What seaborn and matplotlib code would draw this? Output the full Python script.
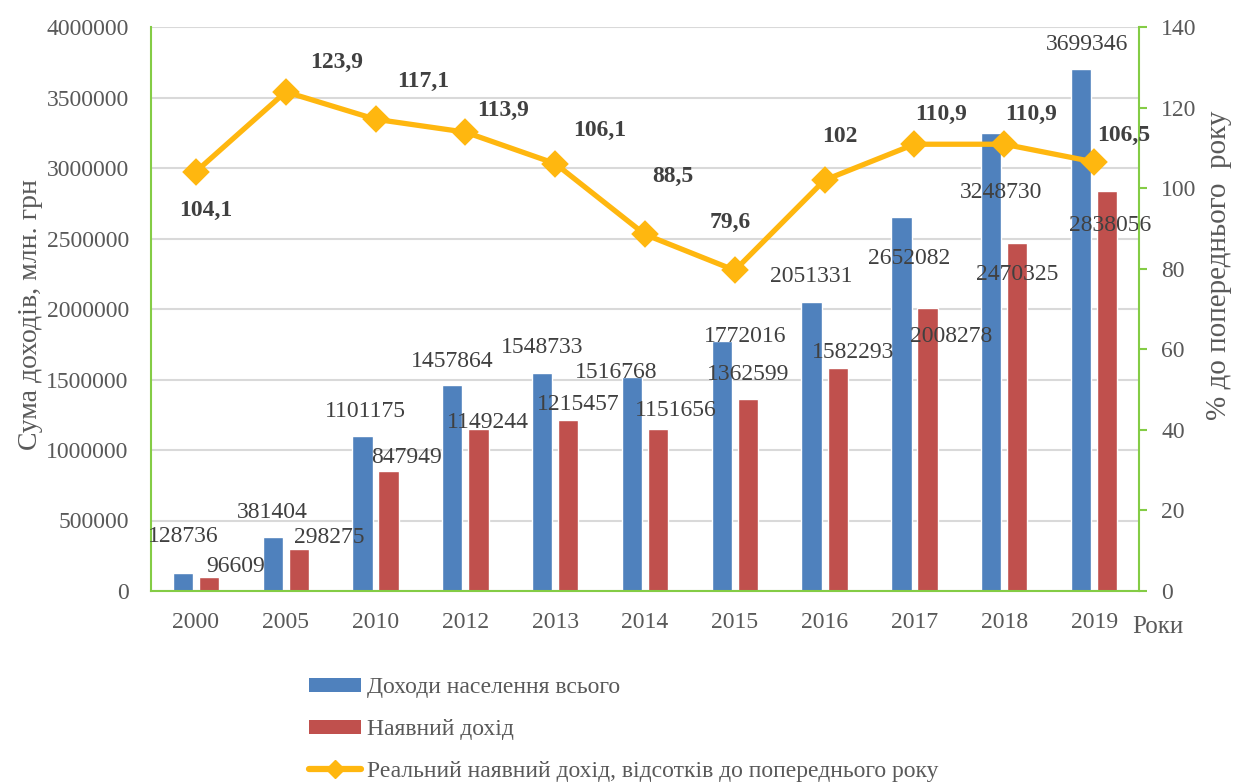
import numpy as np
import pandas as pd
import seaborn as sns
import matplotlib
matplotlib.use("Agg")
import matplotlib.pyplot as plt
import matplotlib.ticker as mticker
from matplotlib.patches import Patch
from matplotlib.lines import Line2D

# --- data ---
years = ["2000", "2005", "2010", "2012", "2013", "2014", "2015", "2016", "2017", "2018", "2019"]
income_total = [128736, 381404, 1101175, 1457864, 1548733, 1516768, 1772016, 2051331, 2652082, 3248730, 3699346]
income_disposable = [96609, 298275, 847949, 1149244, 1215457, 1151656, 1362599, 1582293, 2008278, 2470325, 2838056]
real_pct = [104.1, 123.9, 117.1, 113.9, 106.1, 88.5, 79.6, 102, 110.9, 110.9, 106.5]
real_pct_labels = ["104,1", "123,9", "117,1", "113,9", "106,1", "88,5", "79,6", "102", "110,9", "110,9", "106,5"]

name_total = "Доходи населення всього"
name_disp = "Наявний дохід"
name_real = "Реальний наявний дохід, відсотків до попереднього року"

# label offsets (pixels, dx right / dy up), hand placed as in the original
off_total = [(0, 36), (0, 25), (3, 24), (0, 24), (0, 25), (-16, 5), (23, 5), (0, 25), (8, -41), (10, -60), (6, 25)]
off_disp = [(27, 11), (30, 11), (18, 14), (10, 6), (10, 15), (18, 18), (0, 24), (15, 15), (24, -29), (0, -32), (3, -35)]
off_real = [(10, -39), (51, 29), (48, 38), (38, 22), (45, 33), (28, 58), (-5, 48), (15, 44), (27, 30), (27, 30), (30, 27)]

df = pd.DataFrame({
    "year": years * 2,
    "value": income_total + income_disposable,
    "series": [name_total] * len(years) + [name_disp] * len(years),
})

sns.set_theme(style="white")
plt.rcParams["font.family"] = ["Liberation Serif", "DejaVu Serif"]

BLUE = "#4F81BD"
RED = "#C0504D"
GOLD = "#FFB70F"
GREEN = "#84CC45"
TXT = "#595959"
LBL = "#404040"
FS = 17
PX = 0.72  # pixels -> points at dpi 100

fig = plt.figure(figsize=(12.35, 7.83), dpi=100)
ax = fig.add_axes([151 / 1235, 1 - 591 / 783, 988 / 1235, 564 / 783])

sns.barplot(data=df, x="year", y="value", hue="series", palette=[BLUE, RED],
            width=0.58, gap=0.22, ax=ax, saturation=1, legend=False)

ax.set_ylim(0, 4000000)
ax.set_yticks(np.arange(0, 4000001, 500000))
ax.yaxis.set_major_formatter(mticker.StrMethodFormatter("{x:.0f}"))
ax.grid(axis="y", color="#D9D9D9", linewidth=1.5)
ax.set_axisbelow(True)
ax.tick_params(axis="y", length=0, pad=16, labelsize=FS, labelcolor=TXT)
ax.tick_params(axis="x", length=0, pad=15, labelsize=FS, labelcolor=TXT)
ax.set_xlabel("")
ax.set_ylabel("Сума доходів, млн. грн", fontsize=20, color=TXT)
ax.yaxis.set_label_coords(-0.109, 0.49)
for s in ["left", "bottom"]:
    ax.spines[s].set_color(GREEN)
    ax.spines[s].set_linewidth(1.5)
for s in ["top", "right"]:
    ax.spines[s].set_visible(False)

# bar value labels
for cont, offs in zip(ax.containers, [off_total, off_disp]):
    for bar, (dx, dy) in zip(cont, offs):
        h = bar.get_height()
        ax.annotate(f"{int(round(h))}", xy=(bar.get_x() + bar.get_width() / 2, h),
                    xytext=(dx * PX, dy * PX), textcoords="offset points",
                    ha="center", va="center", fontsize=FS, color=LBL, zorder=5)

# secondary axis: line
ax2 = ax.twinx()
sns.pointplot(x=years, y=real_pct, ax=ax2, color=GOLD, markers="D",
              errorbar=None, linewidth=3.8, markersize=11)
ax2.set_ylim(0, 140)
ax2.set_yticks(np.arange(0, 141, 20))
ax2.grid(False)
ax2.tick_params(axis="y", length=6, width=1.5, color=GREEN, pad=10, labelsize=FS, labelcolor=TXT, direction="out")
ax2.set_ylabel("% до попереднього  року", fontsize=21, color=TXT)
ax2.yaxis.set_label_coords(1.068, 0.578)
for s in ["left", "bottom", "top"]:
    ax2.spines[s].set_visible(False)
ax2.spines["right"].set_color(GREEN)
ax2.spines["right"].set_linewidth(1.5)
ax2.set_xlim(-0.5, len(years) - 0.5)

for i, (v, t, (dx, dy)) in enumerate(zip(real_pct, real_pct_labels, off_real)):
    ax2.annotate(t, xy=(i, v), xytext=(dx * PX, dy * PX), textcoords="offset points",
                 ha="center", va="center", fontsize=FS, fontweight="bold", color=LBL)

fig.text(1132 / 1235, 1 - 627 / 783, "Роки", fontsize=18, color=TXT, ha="left", va="center")

handles = [
    Patch(facecolor=BLUE, edgecolor="none"),
    Patch(facecolor=RED, edgecolor="none"),
    Line2D([], [], color=GOLD, linewidth=4.5, marker="D", markersize=9),
]
fig.legend(handles, [name_total, name_disp, name_real], loc="upper left",
           bbox_to_anchor=(309 / 1235, 1 - 677 / 783), frameon=False, fontsize=FS,
           labelcolor=TXT, handlelength=2.2, handleheight=0.55, handletextpad=0.25,
           labelspacing=0.89, borderpad=0, borderaxespad=0)

fig.savefig("out.png", dpi=100)
